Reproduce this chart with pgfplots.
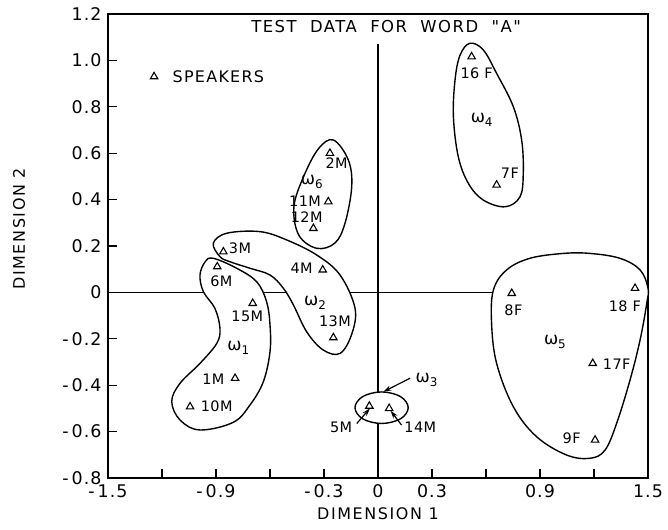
\documentclass[border=0pt]{standalone}
\usepackage{fontspec}
\setmainfont{DejaVu Sans}
\newfontfamily\qfont{DejaVu Sans}
\usepackage{pgfplots}
\pgfplotsset{compat=1.18}
\usetikzlibrary{arrows.meta}

\newcommand\om[1]{{\fontsize{17}{17}\selectfont ω}\raisebox{-0.5ex}{\fontsize{12}{12}\selectfont #1}}
\newcommand\lab{\fontsize{14.5}{16}\selectfont\addfontfeatures{LetterSpace=3}}

\begin{document}
\begin{tikzpicture}
\begin{axis}[
    scale only axis,
    width=540bp, height=464bp,
    xmin=-1.5, xmax=1.5, ymin=-0.8, ymax=1.2,
    clip=false,
    axis line style={line width=1.4pt},
    tick align=inside,
    tick pos=left,
    major tick length=9bp,
    tick style={line width=1.2pt, black},
    xtick={-1.5,-1.2,-0.9,-0.6,-0.3,0,0.3,0.6,0.9,1.2,1.5},
    xticklabels={{-\,1.5},{},{-\,0.9},{},{-\,0.3},0,0.3,{},0.9,{},1.5},
    ytick={-0.8,-0.6,-0.4,-0.2,0,0.2,0.4,0.6,0.8,1.0,1.2},
    yticklabels={{-\,0.8},{-\,0.6},{-\,0.4},{-\,0.2},0,0.2,0.4,0.6,0.8,1.0,1.2},
    ticklabel style={font=\fontsize{17.5}{19}\selectfont\addfontfeatures{LetterSpace=6}},
    xticklabel style={yshift=-3bp},
    yticklabel style={xshift=-3bp},
    every axis x label/.style={at={(rel axis cs:0.5,0)}, yshift=-36bp, anchor=center},
    every axis y label/.style={at={(rel axis cs:0,0.537)}, xshift=-89bp, rotate=90, anchor=center},
    xlabel={\fontsize{16}{18}\selectfont\addfontfeatures{LetterSpace=10}DIMENSION 1},
    ylabel={\fontsize{16}{18}\selectfont\addfontfeatures{LetterSpace=10}DIMENSION 2},
]

% reference lines
\addplot[line width=1.3pt] coordinates {(-1.5,0) (1.5,0)};
\addplot[line width=1.3pt] coordinates {(0,-0.8) (0,1.07)};

% cluster outlines: white fill hides the reference lines inside
\pgfplotsset{cl/.style={smooth cycle, tension=0.6}}
% omega 1
\addplot[cl, fill=white, draw=none] coordinates {
 (-0.915,0.147) (-0.785,0.104) (-0.674,0.046) (-0.619,-0.04) (-0.6,-0.14)
 (-0.6,-0.256) (-0.637,-0.385) (-0.711,-0.485) (-0.804,-0.56) (-0.989,-0.593)
 (-1.1,-0.55) (-1.146,-0.47) (-1.1,-0.392) (-0.989,-0.306) (-0.896,-0.22)
 (-0.878,-0.155) (-0.906,-0.069) (-0.97,0.003) (-0.989,0.075) (-0.96,0.132)};
% omega 2
\addplot[cl, fill=white, draw=none] coordinates {
 (-0.915,0.212) (-0.84,0.255) (-0.656,0.262) (-0.507,0.226) (-0.34,0.161)
 (-0.211,0.075) (-0.128,-0.067) (-0.146,-0.18) (-0.211,-0.263) (-0.305,-0.248)
 (-0.396,-0.17) (-0.47,-0.054) (-0.526,0.018) (-0.6,0.075) (-0.711,0.104)
 (-0.822,0.132) (-0.878,0.154)};
% omega 6
\addplot[cl, fill=white, draw=none] coordinates {
 (-0.248,0.657) (-0.165,0.571) (-0.146,0.456) (-0.183,0.299) (-0.239,0.213)
 (-0.34,0.19) (-0.44,0.247) (-0.467,0.37) (-0.41,0.505) (-0.33,0.62)};
% omega 4
\addplot[cl, fill=white, draw=none] coordinates {
 (0.511,1.074) (0.585,1.045) (0.659,0.944) (0.752,0.8) (0.798,0.657)
 (0.807,0.513) (0.789,0.412) (0.706,0.369) (0.585,0.398) (0.502,0.47)
 (0.446,0.585) (0.419,0.757) (0.428,0.916) (0.456,1.023)};
% omega 5
\addplot[cl, fill=white, draw=none] coordinates {
 (1.03,0.168) (0.844,0.147) (0.715,0.097) (0.641,0.01) (0.631,-0.133)
 (0.659,-0.306) (0.752,-0.493) (0.881,-0.622) (1.048,-0.701) (1.178,-0.715)
 (1.261,-0.68) (1.326,-0.564) (1.4,-0.378) (1.456,-0.205) (1.493,-0.047)
 (1.5,0.018) (1.456,0.097) (1.344,0.147) (1.178,0.168)};
% omega 3
\addplot[cl, fill=white, draw=none] coordinates {
 (0.02,-0.429) (0.125,-0.449) (0.168,-0.497) (0.125,-0.545) (0.02,-0.565)
 (-0.085,-0.545) (-0.128,-0.497) (-0.085,-0.449)};

\pgfplotsset{ln/.style={cl, line width=1.4pt}}
\addplot[ln] coordinates {
 (-0.915,0.147) (-0.785,0.104) (-0.674,0.046) (-0.619,-0.04) (-0.6,-0.14)
 (-0.6,-0.256) (-0.637,-0.385) (-0.711,-0.485) (-0.804,-0.56) (-0.989,-0.593)
 (-1.1,-0.55) (-1.146,-0.47) (-1.1,-0.392) (-0.989,-0.306) (-0.896,-0.22)
 (-0.878,-0.155) (-0.906,-0.069) (-0.97,0.003) (-0.989,0.075) (-0.96,0.132)};
\addplot[ln] coordinates {
 (-0.915,0.212) (-0.84,0.255) (-0.656,0.262) (-0.507,0.226) (-0.34,0.161)
 (-0.211,0.075) (-0.128,-0.067) (-0.146,-0.18) (-0.211,-0.263) (-0.305,-0.248)
 (-0.396,-0.17) (-0.47,-0.054) (-0.526,0.018) (-0.6,0.075) (-0.711,0.104)
 (-0.822,0.132) (-0.878,0.154)};
\addplot[ln] coordinates {
 (-0.248,0.657) (-0.165,0.571) (-0.146,0.456) (-0.183,0.299) (-0.239,0.213)
 (-0.34,0.19) (-0.44,0.247) (-0.467,0.37) (-0.41,0.505) (-0.33,0.62)};
\addplot[ln] coordinates {
 (0.511,1.074) (0.585,1.045) (0.659,0.944) (0.752,0.8) (0.798,0.657)
 (0.807,0.513) (0.789,0.412) (0.706,0.369) (0.585,0.398) (0.502,0.47)
 (0.446,0.585) (0.419,0.757) (0.428,0.916) (0.456,1.023)};
\addplot[ln] coordinates {
 (1.03,0.168) (0.844,0.147) (0.715,0.097) (0.641,0.01) (0.631,-0.133)
 (0.659,-0.306) (0.752,-0.493) (0.881,-0.622) (1.048,-0.701) (1.178,-0.715)
 (1.261,-0.68) (1.326,-0.564) (1.4,-0.378) (1.456,-0.205) (1.493,-0.047)
 (1.5,0.018) (1.456,0.097) (1.344,0.147) (1.178,0.168)};
\addplot[ln] coordinates {
 (0.02,-0.429) (0.125,-0.449) (0.168,-0.497) (0.125,-0.545) (0.02,-0.565)
 (-0.085,-0.545) (-0.128,-0.497) (-0.085,-0.449)};

% speakers
\addplot[only marks, mark=triangle, mark size=4.3bp, mark options={line width=1.1pt}] coordinates {
 (-0.267,0.60) (-0.276,0.391) (-0.359,0.276) (-0.859,0.175) (-0.893,0.111)
 (-0.307,0.097) (-0.696,-0.047) (-0.248,-0.195) (-0.794,-0.37) (-1.044,-0.493)
 (-0.048,-0.49) (0.062,-0.50)
 (0.52,1.016) (0.659,0.463)
 (0.743,-0.004) (1.428,0.018) (1.193,-0.306) (1.206,-0.636)
 (-1.244,0.93)};

% arrows
\pgfplotsset{ar/.style={-{Stealth[length=8bp,width=5bp]}, line width=1.2pt}}
\addplot[ar] coordinates {(-0.118,-0.565) (-0.045,-0.500)};
\addplot[ar] coordinates {(0.131,-0.572) (0.070,-0.510)};
\addplot[ar] coordinates {(0.178,-0.37) (0.03,-0.428)};

% labels
\node[font=\lab] at (axis cs:-0.23,0.556) {2M};
\node[font=\lab] at (axis cs:-0.405,0.391) {11M};
\node[font=\lab] at (axis cs:-0.396,0.326) {12M};
\node[font=\lab] at (axis cs:-0.368,0.477) {\om{6}};
\node[font=\lab] at (axis cs:-0.767,0.19) {3M};
\node[font=\lab] at (axis cs:-0.87,0.046) {6M};
\node[font=\lab] at (axis cs:-0.424,0.104) {4M};
\node[font=\lab] at (axis cs:-0.35,-0.047) {\om{2}};
\node[font=\lab] at (axis cs:-0.239,-0.126) {13M};
\node[font=\lab] at (axis cs:-0.726,-0.105) {15M};
\node[font=\lab] at (axis cs:-0.776,-0.241) {\om{1}};
\node[font=\lab] at (axis cs:-0.915,-0.373) {1M};
\node[font=\lab] at (axis cs:-0.896,-0.49) {10M};
\node[font=\lab] at (axis cs:-0.205,-0.58) {5M};
\node[font=\lab] at (axis cs:0.235,-0.58) {14M};
\node[font=\lab] at (axis cs:0.27,-0.378) {\om{3}};
\node[font=\lab] at (axis cs:0.548,0.944) {16 F};
\node[font=\lab] at (axis cs:0.576,0.743) {\om{4}};
\node[font=\lab] at (axis cs:0.733,0.513) {7F};
\node[font=\lab] at (axis cs:0.752,-0.076) {8F};
\node[font=\lab] at (axis cs:1.372,-0.059) {18 F};
\node[font=\lab] at (axis cs:0.983,-0.212) {\om{5}};
\node[font=\lab] at (axis cs:1.326,-0.309) {17F};
\node[font=\lab] at (axis cs:1.076,-0.629) {9F};

\node[font=\fontsize{16}{18}\selectfont\addfontfeatures{LetterSpace=8}, anchor=west] at (axis cs:-1.16,0.93) {SPEAKERS};
\node[font=\qfont\fontsize{16.5}{18}\selectfont\addfontfeatures{LetterSpace=9}] at (axis cs:0.045,1.146) {TEST\ \ DATA\ \ FOR\ \ WORD\ \ "A"};
\end{axis}
\pgfresetboundingbox
\path[use as bounding box] (-108bp,-52bp) rectangle (560bp,478bp);
\end{tikzpicture}
\end{document}
